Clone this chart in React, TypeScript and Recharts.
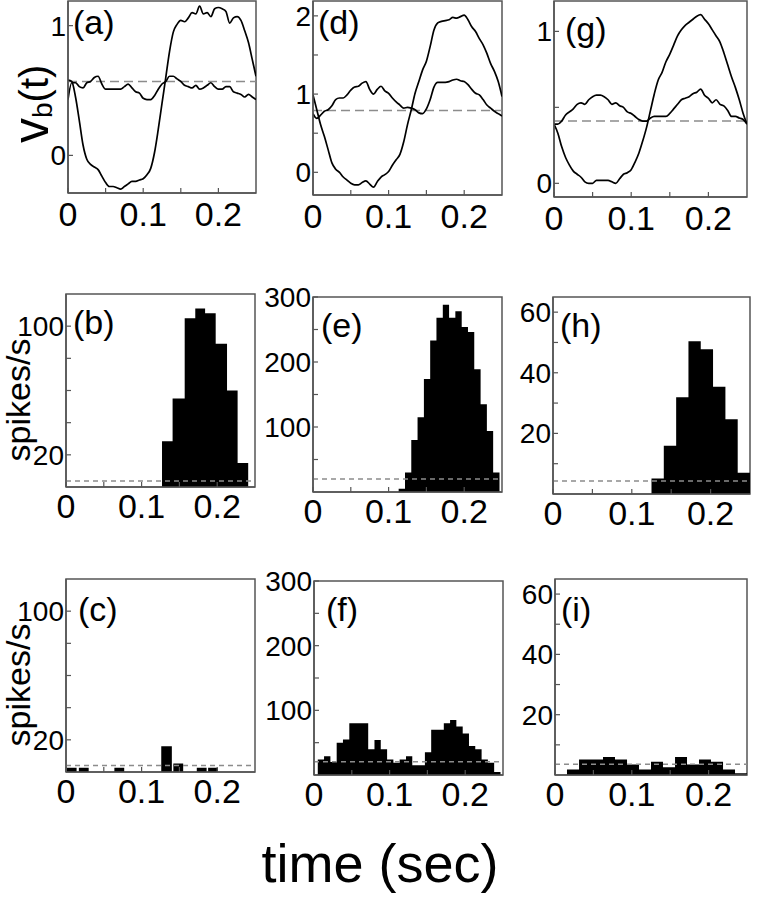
import React from 'react'
import { LineChart, Line, AreaChart, Area, XAxis, YAxis, ReferenceLine, ReferenceArea } from 'recharts'

const FONT = '"Liberation Sans", Arial, Helvetica, sans-serif'

// time grid of the v_b(t) traces (sec)
const sampleTimes = [
  0, 0.005, 0.01, 0.015, 0.02, 0.025, 0.03, 0.035, 0.04, 0.045,
  0.05, 0.055, 0.06, 0.065, 0.07, 0.075, 0.08, 0.085, 0.09, 0.095,
  0.1, 0.105, 0.11, 0.115, 0.12, 0.125, 0.13, 0.135, 0.14, 0.145,
  0.15, 0.155, 0.16, 0.165, 0.17, 0.175, 0.18, 0.185, 0.19, 0.195,
  0.2, 0.205, 0.21, 0.215, 0.22, 0.225, 0.23, 0.235, 0.24, 0.245, 0.25
]

// (a)
const aLarge = [
  0.58, 0.57, 0.45, 0.27, 0.08, -0.03, -0.07, -0.09, -0.11, -0.16,
  -0.21, -0.24, -0.24, -0.25, -0.26, -0.24, -0.22, -0.2, -0.2, -0.19,
  -0.18, -0.15, -0.1, 0.02, 0.2, 0.4, 0.6, 0.8, 0.95, 1.01,
  1.04, 1.03, 1.06, 1.1, 1.09, 1.15, 1.09, 1.1, 1.07, 1.13,
  1.14, 1.13, 1.11, 1.02, 1.06, 1.07, 1.04, 0.96, 0.87, 0.74, 0.61
]
const aSmall = [
  0.43, 0.56, 0.56, 0.53, 0.52, 0.56, 0.57, 0.6, 0.61, 0.55,
  0.51, 0.51, 0.51, 0.51, 0.51, 0.53, 0.55, 0.52, 0.49, 0.48,
  0.44, 0.43, 0.43, 0.46, 0.51, 0.55, 0.57, 0.61, 0.61, 0.59,
  0.57, 0.54, 0.53, 0.52, 0.54, 0.51, 0.52, 0.54, 0.56, 0.53,
  0.51, 0.51, 0.53, 0.53, 0.49, 0.48, 0.47, 0.45, 0.47, 0.45, 0.43
]
const aLevel = 0.57

// (d)
const dLarge = [
  0.99, 0.8, 0.61, 0.46, 0.29, 0.12, 0.04, 0.0, -0.06, -0.1,
  -0.14, -0.16, -0.16, -0.13, -0.11, -0.15, -0.19, -0.12, -0.06, -0.03,
  0.01, 0.09, 0.16, 0.23, 0.39, 0.61, 0.8, 1.01, 1.16, 1.31,
  1.42, 1.61, 1.82, 1.91, 1.93, 1.94, 1.95, 1.98, 1.97, 1.99,
  2.01, 1.95, 1.86, 1.8, 1.71, 1.63, 1.52, 1.39, 1.29, 1.16, 0.97
]
const dSmall = [
  0.75, 0.69, 0.73, 0.78, 0.8, 0.85, 0.93, 0.95, 0.95, 0.99,
  1.05, 1.09, 1.1, 1.14, 1.16, 1.06, 1.0, 1.06, 1.1, 1.04,
  1.01, 0.95, 0.9, 0.86, 0.82, 0.83, 0.82, 0.8, 0.76, 0.75,
  0.81, 0.93, 1.09, 1.15, 1.15, 1.15, 1.16, 1.18, 1.19, 1.17,
  1.16, 1.12, 1.06, 1.01, 0.99, 0.93, 0.86, 0.82, 0.78, 0.75, 0.72
]
const dLevel = 0.79

// (g)
const gLarge = [
  0.39, 0.33, 0.24, 0.17, 0.12, 0.08, 0.06, 0.04, 0.01, 0.0,
  0.0, 0.02, 0.02, 0.02, 0.02, 0.01, 0.0, 0.03, 0.06, 0.07,
  0.09, 0.14, 0.2, 0.28, 0.37, 0.48, 0.59, 0.68, 0.73, 0.8,
  0.85, 0.91, 0.97, 1.01, 1.04, 1.06, 1.08, 1.1, 1.11, 1.08,
  1.05, 1.01, 0.97, 0.93, 0.86, 0.78, 0.7, 0.63, 0.55, 0.46, 0.39
]
const gSmall = [
  0.39, 0.39, 0.41, 0.45, 0.47, 0.49, 0.52, 0.53, 0.52, 0.55,
  0.57, 0.58, 0.58, 0.57, 0.55, 0.52, 0.53, 0.51, 0.5, 0.47,
  0.46, 0.44, 0.42, 0.41, 0.41, 0.43, 0.44, 0.44, 0.44, 0.44,
  0.46, 0.49, 0.52, 0.55, 0.56, 0.57, 0.59, 0.6, 0.62, 0.58,
  0.56, 0.53, 0.55, 0.52, 0.51, 0.48, 0.44, 0.44, 0.43, 0.42, 0.39
]
const gLevel = 0.41

// (b) bin edges (sec) and rates (spikes/s)
const bEdges = [0.127, 0.141, 0.157, 0.171, 0.184, 0.198, 0.213, 0.227, 0.241]
const bRates = [28.5, 55, 105, 111, 108, 89, 60, 15]
const bLevel = 3.7

// (c) isolated bins
const cStarts = [0.001, 0.017, 0.064, 0.126, 0.142, 0.173, 0.188]
const cEnds = [0.014, 0.03, 0.077, 0.14, 0.155, 0.186, 0.201]
const cRates = [2.7, 2.7, 2.7, 16, 5.3, 2.7, 2.7]
const cLevel = 4

// (e)
const eEdges = [
  0.1133, 0.1217, 0.13, 0.1383, 0.1467, 0.155, 0.1633, 0.1717, 0.18,
  0.1883, 0.1967, 0.205, 0.2133, 0.2217, 0.23, 0.2383, 0.2467
]
const eRates = [5, 30, 80, 115, 174, 233, 268, 288, 268, 278, 254, 246, 189, 135, 94, 30]
const eLevel = 20

// (f)
const fEdges = [
  0.005, 0.0133, 0.0217, 0.03, 0.0383, 0.0467, 0.055, 0.0633, 0.0717, 0.08,
  0.0883, 0.0967, 0.105, 0.1133, 0.1217, 0.13, 0.1383, 0.1467, 0.155, 0.1633,
  0.1717, 0.18, 0.1883, 0.1967, 0.205, 0.2133, 0.2217, 0.23, 0.2383, 0.2467
]
const fRates = [
  24, 29, 20, 50, 55, 80, 80, 80, 40, 54,
  40, 24, 19, 24, 29, 15, 15, 35, 70, 70,
  80, 85, 75, 64, 45, 40, 24, 19, 4.6
]
const fLevel = 20.6

// (h)
const hEdges = [0.125, 0.1406, 0.1563, 0.1719, 0.1875, 0.2031, 0.2188, 0.2344, 0.25]
const hRates = [5.1, 15.9, 31.9, 50.4, 47.8, 35.4, 24.7, 7]
const hLevel = 4.3

// (i)
const iEdges = [
  0.0156, 0.0313, 0.0469, 0.0625, 0.0781, 0.0938, 0.1094, 0.125,
  0.1406, 0.1563, 0.1719, 0.1875, 0.2031, 0.2188, 0.2344, 0.25
]
const iRates = [1.8, 5.1, 5.1, 6, 5.1, 3.5, 1.8, 4.4, 2.6, 6, 3.5, 5.1, 4.4, 1.8, 0.55]
const iLevel = 3.6

// axis ticks
const timeTicks = [0, 0.05, 0.1, 0.15, 0.2]
const timeTickLabels = [0, 0.1, 0.2]

type Box = { left: number; top: number; width: number; height: number }
type Pt = { t: number; r: number }

const YW = 60
const MT = 20
const MR = 10
const XH = 50
const FRAME = '#555'
const DASH = '#8c8c8c'

function contiguousSteps(edges: number[], rates: number[]): Pt[] {
  const pts = rates.map((r, i) => ({ t: edges[i], r }))
  pts.push({ t: edges[edges.length - 1], r: 0 })
  return pts
}

function separateSteps(starts: number[], ends: number[], rates: number[]): Pt[] {
  const pts: Pt[] = []
  starts.forEach((s, i) => {
    pts.push({ t: s, r: rates[i] })
    pts.push({ t: ends[i], r: 0 })
  })
  return pts
}

const labelOnly = (shown: number[]) => (v: number) =>
  shown.some(s => Math.abs(s - v) < 1e-9) ? String(v) : ''

function axes(yDomain: number[], yTicks: number[], yLabels: number[], xMargin: number) {
  return [
    <XAxis
      key="x"
      type="number"
      dataKey="t"
      domain={[0, 0.25]}
      allowDataOverflow
      ticks={timeTicks}
      interval={0}
      tickFormatter={labelOnly(timeTickLabels)}
      height={XH}
      tickSize={-5}
      tickMargin={xMargin}
      axisLine={{ stroke: FRAME, strokeWidth: 1.5 }}
      tickLine={{ stroke: FRAME, strokeWidth: 1.2 }}
      tick={{ fontSize: 34, fill: '#000', fontFamily: FONT }}
    />,
    <YAxis
      key="y"
      type="number"
      domain={yDomain}
      allowDataOverflow
      ticks={yTicks}
      interval={0}
      tickFormatter={labelOnly(yLabels)}
      width={YW}
      tickSize={-5}
      tickMargin={7}
      axisLine={{ stroke: FRAME, strokeWidth: 1.5 }}
      tickLine={{ stroke: FRAME, strokeWidth: 1.2 }}
      tick={{ fontSize: 28, fill: '#000', fontFamily: FONT }}
    />,
    <ReferenceArea
      key="frame"
      x1={0}
      x2={0.25}
      y1={yDomain[0]}
      y2={yDomain[1]}
      ifOverflow="visible"
      fill="none"
      fillOpacity={0}
      stroke={FRAME}
      strokeWidth={1.5}
    />
  ]
}

function TracePanel(props: {
  box: Box
  yDomain: number[]
  yTicks: number[]
  yLabels: number[]
  big: number[]
  small: number[]
  level: number
}) {
  const { box, yDomain, yTicks, yLabels, big, small, level } = props
  const rows = sampleTimes.map((t, i) => ({ t, big: big[i], small: small[i] }))
  return (
    <div style={{ position: 'absolute', left: box.left - YW, top: box.top - MT }}>
      <LineChart
        width={YW + box.width + MR}
        height={MT + box.height + XH}
        data={rows}
        margin={{ top: MT, right: MR, left: 0, bottom: 0 }}
      >
        {axes(yDomain, yTicks, yLabels, 14)}
        <ReferenceLine y={level} stroke={DASH} strokeWidth={1.5} strokeDasharray="9 5" />
        <Line dataKey="big" type="monotone" stroke="#000" strokeWidth={1.7} dot={false} isAnimationActive={false} />
        <Line dataKey="small" type="monotone" stroke="#000" strokeWidth={1.7} dot={false} isAnimationActive={false} />
      </LineChart>
    </div>
  )
}

function HistPanel(props: {
  box: Box
  yDomain: number[]
  yTicks: number[]
  yLabels: number[]
  steps: Pt[]
  level: number
}) {
  const { box, yDomain, yTicks, yLabels, steps, level } = props
  return (
    <div style={{ position: 'absolute', left: box.left - YW, top: box.top - MT }}>
      <AreaChart
        width={YW + box.width + MR}
        height={MT + box.height + XH}
        data={steps}
        margin={{ top: MT, right: MR, left: 0, bottom: 0 }}
      >
        {axes(yDomain, yTicks, yLabels, 12)}
        <Area
          dataKey="r"
          type="stepAfter"
          stroke="none"
          fill="#000"
          fillOpacity={1}
          isAnimationActive={false}
        />
        <ReferenceLine y={level} stroke={DASH} strokeWidth={1.5} strokeDasharray="5 4" />
      </AreaChart>
    </div>
  )
}

const tags = [
  { text: '(a)', x: 73, y: 34 },
  { text: '(d)', x: 318, y: 34 },
  { text: '(g)', x: 565, y: 41 },
  { text: '(b)', x: 73, y: 334 },
  { text: '(e)', x: 321, y: 337 },
  { text: '(h)', x: 560, y: 337 },
  { text: '(c)', x: 78, y: 621 },
  { text: '(f)', x: 326, y: 621 },
  { text: '(i)', x: 561, y: 621 }
]

export default function App() {
  return (
    <div style={{ position: 'absolute', left: 0, top: 0, width: 759, height: 900, background: '#fff', overflow: 'hidden' }}>
      <TracePanel box={{ left: 68, top: 1, width: 188, height: 192 }} yDomain={[-0.29, 1.19]} yTicks={[0, 1]} yLabels={[0, 1]} big={aLarge} small={aSmall} level={aLevel} />
      <TracePanel box={{ left: 313, top: 1, width: 189, height: 194 }} yDomain={[-0.29, 2.19]} yTicks={[0, 0.5, 1, 1.5, 2]} yLabels={[0, 1, 2]} big={dLarge} small={dSmall} level={dLevel} />
      <TracePanel box={{ left: 554, top: 1, width: 193, height: 196 }} yDomain={[-0.09, 1.2]} yTicks={[0, 0.5, 1]} yLabels={[0, 1]} big={gLarge} small={gSmall} level={gLevel} />

      <HistPanel box={{ left: 66, top: 294, width: 189, height: 193 }} yDomain={[0, 120]} yTicks={[20, 40, 60, 80, 100]} yLabels={[20, 100]} steps={contiguousSteps(bEdges, bRates)} level={bLevel} />
      <HistPanel box={{ left: 313, top: 297, width: 189, height: 195 }} yDomain={[0, 300]} yTicks={[50, 100, 150, 200, 250, 300]} yLabels={[100, 200, 300]} steps={contiguousSteps(eEdges, eRates)} level={eLevel} />
      <HistPanel box={{ left: 553, top: 297, width: 197, height: 197 }} yDomain={[0, 65]} yTicks={[10, 20, 30, 40, 50, 60]} yLabels={[20, 40, 60]} steps={contiguousSteps(hEdges, hRates)} level={hLevel} />

      <HistPanel box={{ left: 66, top: 579, width: 189, height: 193 }} yDomain={[0, 120]} yTicks={[20, 40, 60, 80, 100]} yLabels={[20, 100]} steps={separateSteps(cStarts, cEnds, cRates)} level={cLevel} />
      <HistPanel box={{ left: 314, top: 581, width: 189, height: 194 }} yDomain={[0, 300]} yTicks={[50, 100, 150, 200, 250, 300]} yLabels={[100, 200, 300]} steps={contiguousSteps(fEdges, fRates)} level={fLevel} />
      <HistPanel box={{ left: 555, top: 579, width: 192, height: 196 }} yDomain={[0, 65]} yTicks={[10, 20, 30, 40, 50, 60]} yLabels={[20, 40, 60]} steps={contiguousSteps(iEdges, iRates)} level={iLevel} />

      <svg width={759} height={900} style={{ position: 'absolute', left: 0, top: 0, pointerEvents: 'none' }} fontFamily={FONT}>
        {tags.map(tag => (
          <text key={tag.text} x={tag.x} y={tag.y} fontSize={34} fill="#000">{tag.text}</text>
        ))}
        {/* baseline kept far enough right that the font box stays on the page */}
        <text transform="translate(48,143) rotate(-90)" fill="#000">
          <tspan fontSize={50}>v</tspan>
          <tspan fontSize={28} dy={4}>b</tspan>
          <tspan fontSize={40} dy={-4}>(t)</tspan>
        </text>
        <text transform="translate(30,400) rotate(-90)" fontSize={34} textAnchor="middle" fill="#000">spikes/s</text>
        <text transform="translate(30,685) rotate(-90)" fontSize={34} textAnchor="middle" fill="#000">spikes/s</text>
        <text x={380} y={882} fontSize={54} textAnchor="middle" fill="#000">time (sec)</text>
      </svg>
    </div>
  )
}
